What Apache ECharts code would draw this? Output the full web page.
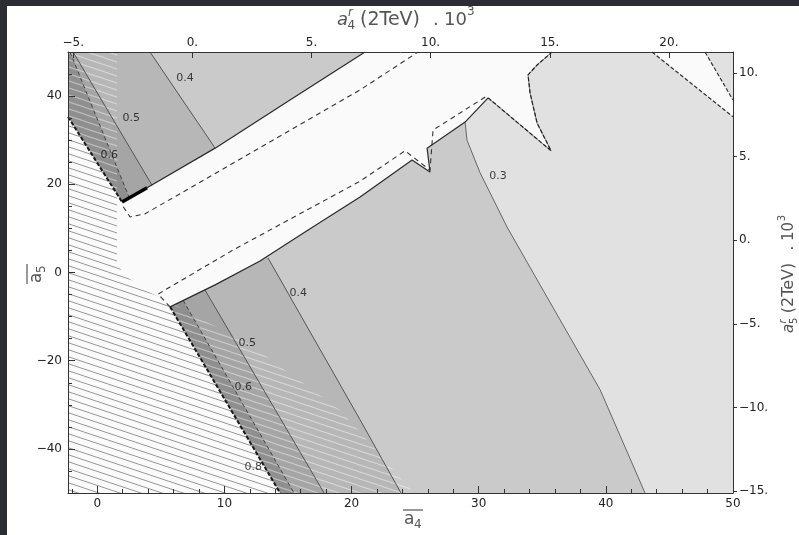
<!DOCTYPE html>
<html><head><meta charset="utf-8">
<script src="https://cdn.jsdelivr.net/npm/echarts@6/dist/echarts.min.js"></script>
<style>
html,body{margin:0;padding:0;background:#fff;overflow:hidden;}
#c{position:absolute;left:0;top:0;width:799px;height:535px;}
.strip{position:absolute;background:#2a2d34;}
</style></head><body>
<div id="c"></div>
<div class="strip" style="left:0;top:0;width:799px;height:6px"></div>
<div class="strip" style="left:0;top:0;width:7px;height:535px"></div>
<script>
// ---------- axes ----------
const xRange = [-2.3, 50];
const yRange = [-50, 50];
const topRange = [-5.22, 22.69];
const rightRange = [-15.12, 11.255];
const bottomTicks = [0, 10, 20, 30, 40, 50];
const bottomMinorTicks = [-2, 2, 4, 6, 8, 12, 14, 16, 18, 22, 24, 26, 28, 32, 34, 36, 38, 42, 44, 46, 48];
const leftTicks = [-40, -20, 0, 20, 40];
const leftMinorTicks = [-45, -35, -30, -25, -15, -10, -5, 5, 10, 15, 25, 30, 35, 45];
const topTicks = [-5, 0, 5, 10, 15, 20];
const rightTicks = [-15, -10, -5, 0, 5, 10];

// ---------- contour lines (a4bar, a5bar) ----------
const c03 = [[28.93, 34.1], [29.08, 30.0], [30.11, 22.6], [32.23, 10.3], [35.06, -4.0], [39.55, -26.6], [43.08, -50]];
const c04Upper = [[4.15, 50], [9.27, 28.2]];
const c04Lower = [[13.43, 3.3], [20.67, -33.4], [23.89, -50]];
const c05Upper = [[-1.90, 50], [4.31, 19.8]];
const c05Lower = [[8.48, -4.0], [17.84, -50]];
const c06Upper = [[-2.14, 50], [2.50, 17.1]];
const c06Lower = [[6.75, -6.3], [15.48, -50]];
const c08Upper = [[-2.3, 35.3], [1.95, 16.0]];
const c08Lower = [[5.73, -7.8], [14.38, -50]];
const wedge = [[1.95, 16.0], [3.92, 19.2]];
const bandUpperEdge = [[3.92, 19.2], [9.27, 28.2], [15.16, 39.1], [21.06, 50]];
const bandLowerEdge = [[5.73, -7.8], [9.27, -2.8], [12.80, 2.6], [16.74, 9.9], [20.67, 17.1], [24.76, 25.5], [26.17, 22.8], [25.94, 28.2], [28.93, 34.1], [30.74, 39.6]];
const spikeEdge = [[30.74, 39.6], [35.69, 27.6], [34.59, 33.9], [34.04, 40.7], [33.88, 44.8], [34.59, 47.05], [35.77, 50]];
const cornerEdgeA = [[43.63, 50], [50, 35.3]];
const cornerEdgeB = [[47.80, 50], [50, 39.1]];
const innerUpper = [[2.04, 14.9], [2.58, 12.6], [3.76, 13.3], [20.67, 41.4], [25.23, 50]];
const innerLower = [[5.73, -7.8], [4.78, -4.9], [10.68, 5.1], [20.67, 20.7], [24.21, 27.6], [26.17, 23.2], [26.41, 32.3], [30.74, 40.2]];
const hatchBoundary = [[1.56, 50], [1.56, 1.7], [2.42, -1.2], [3.76, -4.0], [5.33, -6.2], [12.02, -16.4], [19.10, -31.2], [24.92, -50]];

// ---------- contour labels ----------
const contourLabels = [
  { value: [6.90, 44.1], name: '0.4' },
  { value: [2.67, 35.0], name: '0.5' },
  { value: [0.94, 26.6], name: '0.6' },
  { value: [31.52, 21.9], name: '0.3' },
  { value: [15.80, -4.6], name: '0.4' },
  { value: [11.80, -16.0], name: '0.5' },
  { value: [11.48, -26.0], name: '0.6' },
  { value: [12.26, -44.1], name: '0.8' }
];

// ---------- regions built from the lines ----------
const TL = [xRange[0], yRange[1]], BL = [xRange[0], yRange[0]];
const region03 = [TL, [34.04, 50], [30.74, 39.6], ...c03, BL];
const region04 = [TL, ...c04Upper, ...c04Lower, BL];
const region05 = [TL, ...c05Upper, ...c05Lower, BL];
const region06 = [TL, ...c06Upper, ...c06Lower, BL];
const whiteRegion = [...c08Upper, ...wedge, ...bandUpperEdge, ...spikeEdge.slice().reverse(), ...bandLowerEdge.slice().reverse(), ...c08Lower, BL];
const cornerWhite = [cornerEdgeA[0], cornerEdgeB[0], cornerEdgeB[1], cornerEdgeA[1]];
const hatchRegion = [TL, ...hatchBoundary, BL];
const hatchOnWhite = [c08Upper[0], [1.56, 17.8], ...hatchBoundary.slice(1, 5), ...c08Lower, BL];

// hatch patterns
function makePattern(color, width, off) {
  const pc = document.createElement('canvas'); pc.width = 21; pc.height = 7;
  const g = pc.getContext('2d');
  g.lineWidth = width; g.strokeStyle = color;
  for (const o of [-7, 0, 7]) { g.beginPath(); g.moveTo(0, off + o); g.lineTo(21, off + 7 + o); g.stroke(); }
  return { image: pc, repeat: 'repeat' };
}
const lightHatch = makePattern('rgba(255,255,255,0.4)', 1.3, 2);
const darkHatch = makePattern('rgba(60,60,60,0.58)', 0.9, 5);

function poly(pts, fill, z) {
  return {
    type: 'custom', data: pts, z: z, silent: true, animation: false, clip: true,
    renderItem: function (p, api) {
      if (p.dataIndex !== 0) return null;
      return { type: 'polygon', shape: { points: pts.map(q => api.coord(q)) }, style: { fill: fill } };
    }
  };
}
function ln(pts, color, width, type, z) {
  return { type: 'line', data: pts, symbol: 'none', silent: true, animation: false, z: z,
    lineStyle: { color: color, width: width, type: type || 'solid' } };
}
const FF = '"DejaVu Sans", Verdana, sans-serif';
const fmtDot = v => (v < 0 ? '\u2212' + (-v) : v) + '.';
const fmtInt = v => (v < 0 ? '\u2212' + (-v) : '' + v);

const chart = echarts.init(document.getElementById('c'), null, { renderer: 'canvas' });
const tickLine = { color: '#333', width: 1 };
const titleColor = '#555';
function txt(x, y, text, font) {
  return { type: 'text', x: x, y: y, style: { text: text, font: font, fill: titleColor, verticalAlign: 'middle', align: 'left' } };
}
// axis titles: a^r_n (2TeV) . 10^3
function titleGroup(x, y, rot, s, sub) {
  const big = Math.round(18 * s), small = Math.round(12 * s);
  return { type: 'group', x: x, y: y, rotation: rot, silent: true, children: [
    txt(0, 0, 'a', 'italic ' + big + 'px ' + FF),
    txt(11 * s, -7 * s, 'r', 'italic ' + small + 'px ' + FF),
    txt(10.5 * s, 6 * s, sub, small + 'px ' + FF),
    txt(23 * s, 0, '(2TeV)', Math.round(19 * s) + 'px ' + FF),
    txt(96 * s, 0, '.', big + 'px ' + FF),
    txt(107 * s, 0, '10', big + 'px ' + FF),
    txt(130 * s, -8 * s, '3', small + 'px ' + FF)
  ] };
}
function barGroup(x, y, rot, sub) {
  return { type: 'group', x: x, y: y, rotation: rot, silent: true, children: [
    txt(-10, 0, 'a', '17px ' + FF),
    txt(0, 5, sub, '12px ' + FF),
    { type: 'line', shape: { x1: -11, y1: -10, x2: 9, y2: -10 }, style: { stroke: titleColor, lineWidth: 1.2 } }
  ] };
}
const tickLabel = { color: '#222', fontSize: 12, fontFamily: FF };

chart.setOption({
  animation: false,
  backgroundColor: '#ffffff',
  grid: { left: 68, right: 66, top: 52, bottom: 42, show: true, backgroundColor: '#e1e1e1', borderWidth: 0, containLabel: false },
  xAxis: [
    { type: 'value', position: 'bottom', min: xRange[0], max: xRange[1], z: 30,
      axisLine: { show: true, onZero: false, lineStyle: tickLine },
      axisTick: { show: true, inside: true, length: 7, customValues: bottomTicks, lineStyle: tickLine },
      axisLabel: Object.assign({ show: true, customValues: bottomTicks, formatter: fmtInt, margin: 5 }, tickLabel),
      splitLine: { show: false } },
    { type: 'value', position: 'top', min: topRange[0], max: topRange[1], z: 30,
      axisLine: { show: true, onZero: false, lineStyle: tickLine },
      axisTick: { show: true, inside: true, length: 6, customValues: topTicks, lineStyle: tickLine },
      axisLabel: Object.assign({ show: true, customValues: topTicks, formatter: fmtDot, margin: 3 }, tickLabel),
      splitLine: { show: false } },
    { type: 'value', position: 'bottom', min: xRange[0], max: xRange[1], z: 30,
      axisLine: { show: false, onZero: false },
      axisTick: { show: true, inside: true, length: 4, customValues: bottomMinorTicks, lineStyle: tickLine },
      axisLabel: { show: false }, splitLine: { show: false } }
  ],
  yAxis: [
    { type: 'value', position: 'left', min: yRange[0], max: yRange[1], z: 30,
      axisLine: { show: true, onZero: false, lineStyle: tickLine },
      axisTick: { show: true, inside: true, length: 7, customValues: leftTicks, lineStyle: tickLine },
      axisLabel: Object.assign({ show: true, customValues: leftTicks, formatter: fmtInt, margin: 6 }, tickLabel),
      splitLine: { show: false } },
    { type: 'value', position: 'right', min: rightRange[0], max: rightRange[1], z: 30,
      axisLine: { show: true, onZero: false, lineStyle: tickLine },
      axisTick: { show: true, inside: false, length: 4, customValues: rightTicks, lineStyle: tickLine },
      axisLabel: Object.assign({ show: true, customValues: rightTicks, formatter: fmtDot, margin: 6 }, tickLabel),
      splitLine: { show: false } },
    { type: 'value', position: 'left', min: yRange[0], max: yRange[1], z: 30,
      axisLine: { show: false, onZero: false },
      axisTick: { show: true, inside: true, length: 4, customValues: leftMinorTicks, lineStyle: tickLine },
      axisLabel: { show: false }, splitLine: { show: false } }
  ],
  graphic: [
    titleGroup(337, 20, 0, 1, '4'),
    titleGroup(789, 333, Math.PI / 2, 0.86, '5'),
    barGroup(37, 273, Math.PI / 2, '5'),
    barGroup(414, 520, 0, '4')
  ],
  series: [
    poly(region03, '#cacaca', 1),
    poly(region04, '#b7b7b7', 2),
    poly(region05, '#a5a5a5', 3),
    poly(region06, '#8f8f8f', 4),
    poly(whiteRegion, '#fafafa', 5),
    poly(cornerWhite, '#fafafa', 5),
    poly(hatchRegion, lightHatch, 6),
    poly(hatchOnWhite, darkHatch, 6),
    ln(c03, '#666', 1, 'solid', 8),
    ln(c04Upper, '#555', 1, 'solid', 8),
    ln(c04Lower, '#555', 1, 'solid', 8),
    ln(c05Upper, '#555', 1, 'solid', 8),
    ln(c05Lower, '#555', 1, 'solid', 8),
    ln(c06Upper, '#444', 1, [4, 3], 8),
    ln(c06Lower, '#444', 1, [4, 3], 8),
    ln(c08Upper, '#1a1a1a', 2, [4, 2], 9),
    ln(c08Lower, '#1a1a1a', 2, [4, 2], 9),
    ln(wedge, '#000', 3.5, 'solid', 9),
    ln(bandUpperEdge, '#2a2a2a', 1.2, 'solid', 9),
    ln(bandLowerEdge, '#2a2a2a', 1.2, 'solid', 9),
    ln(spikeEdge, '#777', 1, 'solid', 9),
    ln(spikeEdge, '#222', 1.2, [4, 2], 9),
    ln(cornerEdgeA, '#333', 1.2, [4, 2], 9),
    ln(cornerEdgeB, '#333', 1.2, [4, 2], 9),
    ln(innerUpper, '#333', 1.1, [5, 4], 9),
    ln(innerLower, '#333', 1.1, [5, 4], 9),
    { type: 'scatter', data: contourLabels, symbolSize: 0, silent: true, z: 10, animation: false,
      label: { show: true, position: 'inside', formatter: '{b}', color: '#111', fontSize: 11, fontFamily: FF } }
  ]
});
</script>
</body></html>
